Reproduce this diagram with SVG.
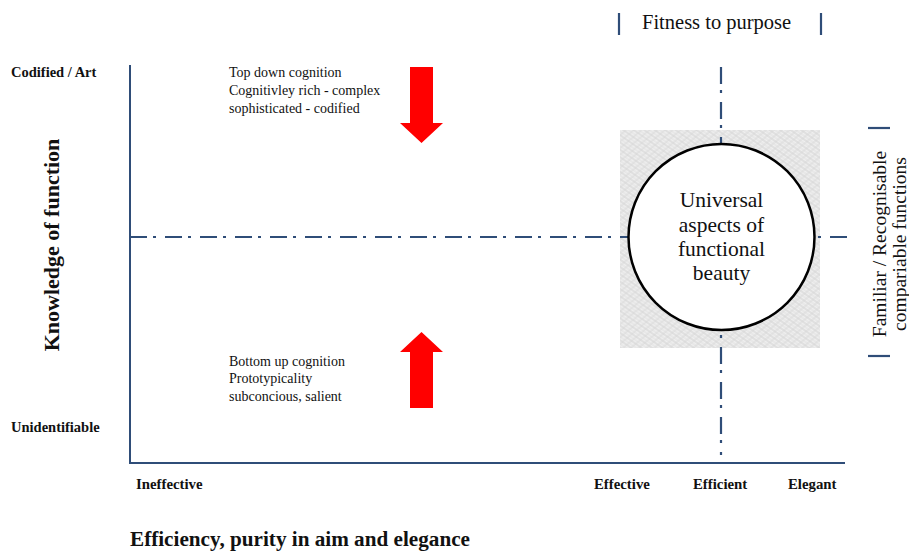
<svg xmlns="http://www.w3.org/2000/svg" width="909" height="551" viewBox="0 0 909 551">
  <defs>
    <!-- fine woven cross-hatch behind the central circle -->
    <pattern id="weave" width="6" height="6" patternUnits="userSpaceOnUse" patternTransform="rotate(35)">
      <rect width="6" height="6" fill="#efefef"/>
      <line x1="0" y1="1" x2="6" y2="1" stroke="#d2d2d2" stroke-width="1"/>
      <line x1="0" y1="4" x2="6" y2="4" stroke="#dddddd" stroke-width="0.8"/>
    </pattern>
    <pattern id="weave2" width="5" height="5" patternUnits="userSpaceOnUse" patternTransform="rotate(-40)">
      <line x1="0" y1="2" x2="5" y2="2" stroke="#d6d6d6" stroke-width="0.8"/>
    </pattern>
    <style>
      .axis { stroke: #2f4d78; stroke-width: 2; fill: none; }
      .dashdot { stroke: #2f4d78; stroke-width: 2.2; fill: none; stroke-dasharray: 17 6 3 9; }
      .bar { stroke: #2f4d78; stroke-width: 2.2; }
      .serif { font-family: "Liberation Serif", "Times New Roman", serif; fill: #111; }
      .small { font-size: 14px; }
      .bold { font-weight: bold; }
      .arrow { fill: #ff0000; }
    </style>
  </defs>

  <rect width="909" height="551" fill="#ffffff"/>

  <!-- shaded zone of functional beauty -->
  <g id="zone">
    <rect x="620" y="130" width="200" height="218" fill="url(#weave)"/>
    <rect x="620" y="130" width="200" height="218" fill="url(#weave2)"/>
  </g>

  <!-- axes and guide lines -->
  <g id="connectors">
    <path class="axis" d="M130 65 V463 H845"/>
    <path class="dashdot" d="M130 237 H848"/>
    <path class="dashdot" d="M721 67 V455"/>
    <line class="bar" x1="619" y1="13" x2="619" y2="35"/>
    <line class="bar" x1="821" y1="13" x2="821" y2="35"/>
    <line class="bar" x1="868" y1="128" x2="890" y2="128"/>
    <line class="bar" x1="868" y1="356" x2="890" y2="356"/>
  </g>

  <g id="circle-node">
    <circle cx="721.5" cy="237" r="93" fill="#ffffff" stroke="#000" stroke-width="2.5"/>
    <g class="serif" font-size="21.5" text-anchor="middle">
      <text x="721.5" y="207">Universal</text>
      <text x="721.5" y="231.5">aspects of</text>
      <text x="721.5" y="256">functional</text>
      <text x="721.5" y="280">beauty</text>
    </g>
  </g>

  <g id="fitness-label">
    <text class="serif" x="642" y="29" font-size="20.5">Fitness to purpose</text>
  </g>

  <g id="familiar-label" class="serif" font-size="19.5" text-anchor="middle">
    <text transform="translate(886 244) rotate(-90)">Familiar / Recognisable</text>
    <text transform="translate(906 244) rotate(-90)">compariable functions</text>
  </g>

  <g id="y-axis-labels" class="serif bold">
    <text transform="translate(59 245) rotate(-90)" font-size="22" text-anchor="middle">Knowledge of function</text>
    <text x="11" y="77" font-size="14.5">Codified / Art</text>
    <text x="11" y="432" font-size="14.5">Unidentifiable</text>
  </g>

  <g id="top-down">
    <g class="serif small">
      <text x="229" y="77">Top down cognition</text>
      <text x="229" y="95">Cognitivley rich - complex</text>
      <text x="229" y="113">sophisticated - codified</text>
    </g>
    <polygon class="arrow" points="410,67 433,67 433,123 443,123 421.5,143 400,123 410,123"/>
  </g>

  <g id="bottom-up">
    <g class="serif small">
      <text x="229" y="365.5">Bottom up cognition</text>
      <text x="229" y="383">Prototypicality</text>
      <text x="229" y="400.5">subconcious, salient</text>
    </g>
    <polygon class="arrow" points="421.5,332 443,352 433,352 433,408 410,408 410,352 400,352"/>
  </g>

  <g id="x-axis-labels" class="serif bold" font-size="14.8">
    <text x="136" y="489">Ineffective</text>
    <text x="594" y="489">Effective</text>
    <text x="693" y="489">Efficient</text>
    <text x="788" y="489">Elegant</text>
    <text x="130" y="546" font-size="20" textLength="340" lengthAdjust="spacingAndGlyphs">Efficiency, purity in aim and elegance</text>
  </g>
</svg>
